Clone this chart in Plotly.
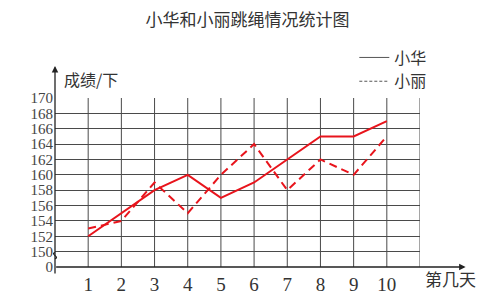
import plotly.graph_objects as go

days = [1, 2, 3, 4, 5, 6, 7, 8, 9, 10]
xiaohua = [152, 155, 158, 160, 157, 159, 162, 165, 165, 167]
xiaoli = [153, 154, 159, 155, 160, 164, 158, 162, 160, 165]
y_tickvals = [148, 150, 152, 154, 156, 158, 160, 162, 164, 166, 168, 170]
y_ticktext = ["0", "150", "152", "154", "156", "158", "160", "162", "164", "166", "168", "170"]
x_tickvals = [1, 2, 3, 4, 5, 6, 7, 8, 9, 10]

RED = "#e8141c"
GRID = "#4a4a4a"
TXT = "#333333"
SERIF = "Liberation Serif, Times New Roman, serif"
CJK = "Noto Sans CJK SC, sans-serif"

fig = go.Figure()
fig.add_trace(go.Scatter(x=days, y=xiaohua, mode="lines", name="小华",
                         line=dict(color=RED, width=2), showlegend=False))
fig.add_trace(go.Scatter(x=days, y=xiaoli, mode="lines", name="小丽",
                         line=dict(color=RED, width=2, dash="8px,5px"), showlegend=False))
# legend samples (dark gray, as in the printed key)
fig.add_trace(go.Scatter(x=[None], y=[None], mode="lines", name="小华",
                         line=dict(color="#555555", width=1)))
fig.add_trace(go.Scatter(x=[None], y=[None], mode="lines", name="小丽",
                         line=dict(color="#555555", width=1, dash="3px,2px")))

fig.update_layout(
    width=490, height=307,
    margin=dict(l=55, r=70, t=98, b=34),
    paper_bgcolor="white", plot_bgcolor="white",
    title=dict(text="小华和小丽跳绳情况统计图", x=0.505, xanchor="center",
               y=0.935, yanchor="middle",
               font=dict(family=CJK, size=17, color=TXT)),
    legend=dict(x=0.82, y=1.34, xanchor="left", yanchor="top",
                font=dict(family=CJK, size=16, color=TXT),
                bgcolor="rgba(0,0,0,0)", itemwidth=30, tracegroupgap=0),
    showlegend=True,
)
fig.update_xaxes(range=[0, 11], tickvals=x_tickvals, showgrid=False,
                 showline=False, zeroline=False, ticks="", ticklabelstandoff=4,
                 tickfont=dict(family=SERIF, size=19, color=TXT))
fig.update_yaxes(range=[148, 170], tickvals=y_tickvals, ticktext=y_ticktext,
                 showgrid=True, gridcolor=GRID, gridwidth=1,
                 showline=False, zeroline=False, ticks="", ticklabelstandoff=1,
                 tickfont=dict(family=SERIF, size=15, color="#444444"))

# vertical grid lines at each day and right edge
for xv in list(range(1, 12)):
    fig.add_shape(type="line", xref="x", yref="y domain", x0=xv, x1=xv, y0=0, y1=1,
                  line=dict(color=GRID, width=1), layer="below")

# axes with arrows
fig.add_annotation(xref="paper", yref="paper", x=1.125, y=0, ax=-411, ay=0,
                   axref="pixel", ayref="pixel", text="", showarrow=True,
                   arrowhead=2, arrowsize=1, arrowwidth=1.3, arrowcolor="#222222")
fig.add_annotation(xref="paper", yref="paper", x=0, y=1.19, ax=0, ay=209,
                   axref="pixel", ayref="pixel", text="", showarrow=True,
                   arrowhead=2, arrowsize=1, arrowwidth=1.3, arrowcolor="#222222")

# axis break squiggle between 0 and 150
fig.add_shape(type="rect", xref="paper", yref="paper", x0=-0.006, x1=0.006,
              y0=0.05, y1=0.085, fillcolor="white", line=dict(width=0))
fig.add_shape(type="path", xref="paper", yref="paper",
              path="M 0,0.05 C 0.014,0.058 -0.014,0.077 0,0.085",
              line=dict(color="#222222", width=1.2))

fig.add_annotation(xref="paper", yref="paper", x=0.02, y=1.115, xanchor="left",
                   yanchor="middle", text="成绩/下", showarrow=False,
                   font=dict(family=CJK, size=16, color=TXT))
fig.add_annotation(xref="paper", yref="paper", x=1.007, y=-0.07, xanchor="left",
                   yanchor="middle", text="第几天", showarrow=False,
                   font=dict(family=CJK, size=17, color=TXT))

fig.write_html("out.html")
